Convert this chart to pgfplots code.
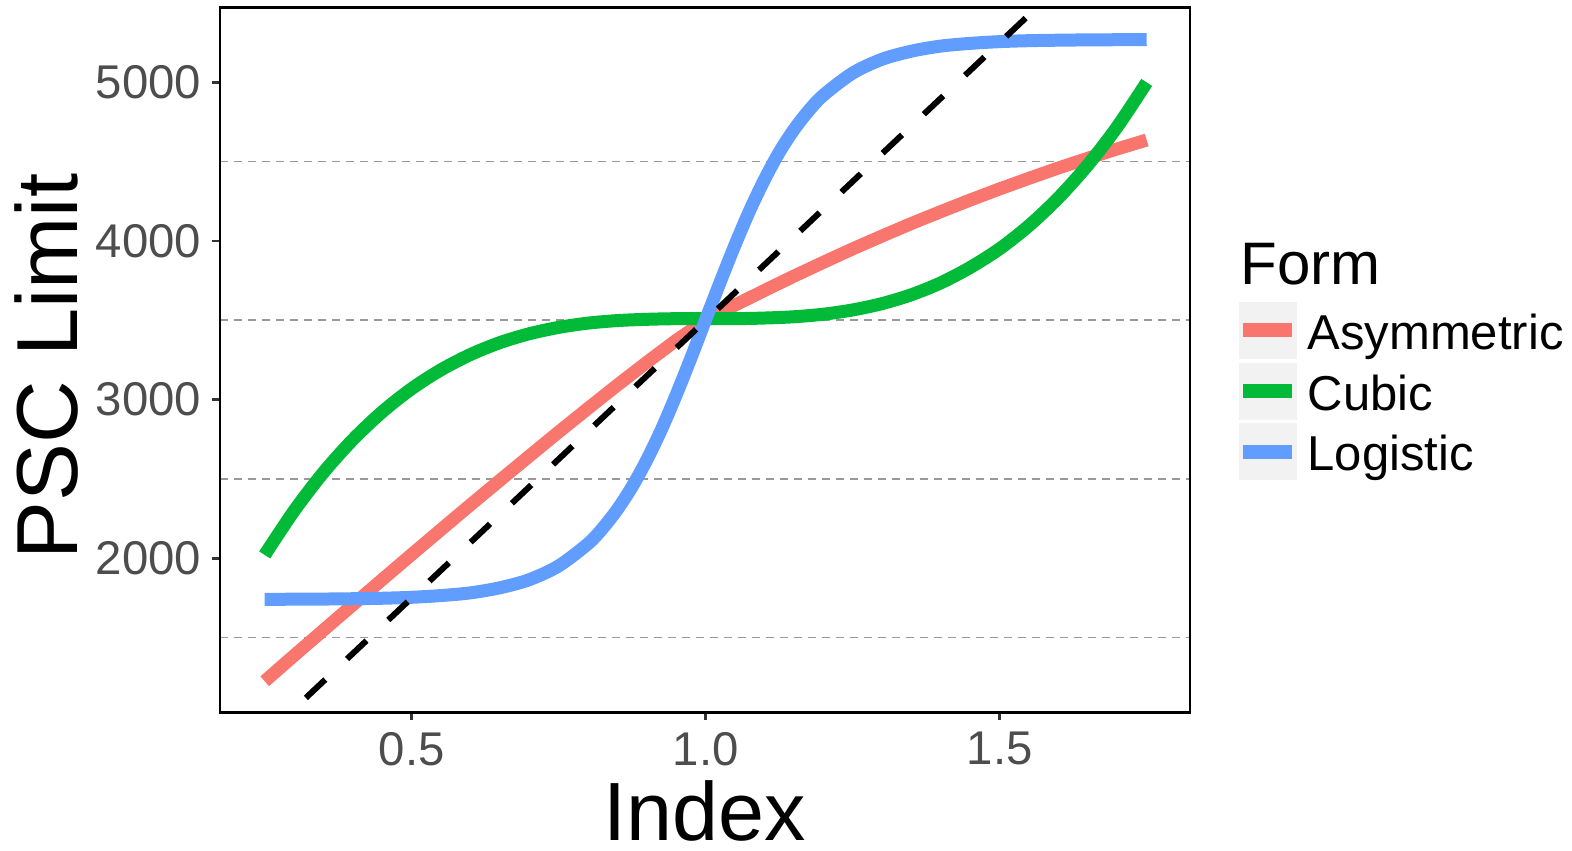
\documentclass[border=0pt]{standalone}
\usepackage{fontspec}
\setmainfont{Liberation Sans}
\usepackage{pgfplots}
\pgfplotsset{compat=1.18}
\definecolor{cA}{HTML}{F8766D}
\definecolor{cC}{HTML}{00BA38}
\definecolor{cL}{HTML}{619CFF}
\definecolor{tickgrey}{HTML}{333333}
\definecolor{labgrey}{HTML}{4D4D4D}
\definecolor{keybg}{HTML}{F2F2F2}
\begin{document}
\begin{tikzpicture}
\begin{axis}[
  scale only axis, width=291pt, height=211.4pt,
  xmin=0.174, xmax=1.8236, ymin=1030, ymax=5471,
  axis line style={black, line width=0.8pt},
  xtick={0.5,1,1.5},
  ytick={2000,3000,4000,5000},
  minor ytick={1500,2500,3500,4500},
  yminorgrids, minor tick length=0pt,
  minor grid style={black!40, line width=0.5pt, dash pattern=on 2.4pt off 1.8pt},
  tick align=outside, major tick length=2.4pt,
  xtick pos=lower, ytick pos=left,
  tick style={tickgrey, line width=0.8pt},
  /pgf/number format/assume math mode=true,
  scaled y ticks=false, scaled x ticks=false,
  /pgf/number format/1000 sep={},
  tick label style={font=\fontsize{14.2}{16}\selectfont, text=labgrey},
  yticklabel style={inner sep=0pt, xshift=-3.1pt},
  xticklabel style={inner sep=0pt, yshift=-3.4pt, /pgf/number format/.cd, fixed, fixed zerofill, precision=1},
  xlabel={Index}, ylabel={PSC Limit},
  xlabel style={font=\fontsize{24.8}{28}\selectfont, at={(axis description cs:0.5,-0.182)}, anchor=base, inner sep=0pt},
  ylabel style={font=\fontsize{26}{28}\selectfont, at={(axis description cs:-0.1474,0.4907)}, anchor=base, inner sep=0pt},
]
% Asymmetric
\addplot[cA, line width=3.9pt] coordinates {
(0.25,1225) (0.30,1387) (0.35,1547) (0.40,1707) (0.45,1866) (0.50,2024)
(0.55,2181) (0.60,2337) (0.65,2491) (0.70,2644) (0.75,2796) (0.80,2945)
(0.85,3092) (0.90,3235) (0.95,3374) (1.00,3500) (1.05,3596) (1.10,3688)
(1.15,3778) (1.20,3865) (1.25,3950) (1.30,4031) (1.35,4110) (1.40,4185)
(1.45,4258) (1.50,4328) (1.55,4395) (1.60,4460) (1.65,4521) (1.70,4580)
(1.75,4636)};
% Cubic
\addplot[cC, line width=3.9pt, smooth] coordinates {
(0.25,2021) (0.30,2299) (0.35,2541) (0.40,2748) (0.45,2923) (0.50,3069)
(0.55,3188) (0.60,3284) (0.65,3359) (0.70,3415) (0.75,3455) (0.80,3482)
(0.85,3498) (0.90,3506) (0.95,3510) (1.00,3510) (1.05,3510) (1.10,3514)
(1.15,3522) (1.20,3538) (1.25,3565) (1.30,3605) (1.35,3661) (1.40,3736)
(1.45,3833) (1.50,3951) (1.55,4097) (1.60,4272) (1.65,4479) (1.70,4720)
(1.75,4999)};
% Logistic
\addplot[cL, line width=3.9pt, smooth] coordinates {
(0.25,1741) (0.30,1742) (0.35,1743) (0.40,1745) (0.45,1748) (0.50,1754)
(0.55,1765) (0.60,1782) (0.65,1814) (0.70,1865) (0.75,1952) (0.80,2092)
(0.825,2190) (0.85,2309) (0.875,2452) (0.90,2621) (0.925,2814) (0.95,3031)
(0.975,3263) (1.00,3505) (1.025,3744) (1.05,3976) (1.075,4193) (1.10,4387)
(1.125,4558) (1.15,4701) (1.175,4820) (1.20,4918) (1.25,5058) (1.30,5145)
(1.35,5196) (1.40,5228) (1.45,5245) (1.50,5256) (1.55,5262) (1.60,5265)
(1.65,5267) (1.70,5268) (1.75,5269)};
% reference line
\addplot[black, line width=1.8pt, dash pattern=on 8pt off 9pt] coordinates {(0.25,875) (1.60,5600)};
\end{axis}
% legend
\node[anchor=base west, inner sep=0pt, font=\fontsize{18}{20}\selectfont] at (306pt,128.2pt) {Form};
\fill[keybg] (305.7pt,105.9pt) rectangle (323.1pt,123.2pt);
\fill[keybg] (305.7pt,87.7pt) rectangle (323.1pt,104.9pt);
\fill[keybg] (305.7pt,69.6pt) rectangle (323.1pt,86.8pt);
\draw[cA, line width=4.2pt] (306.9pt,114.55pt) -- (321.6pt,114.55pt);
\draw[cC, line width=4.2pt] (306.9pt,96.3pt) -- (321.6pt,96.3pt);
\draw[cL, line width=4.2pt] (306.9pt,78.2pt) -- (321.6pt,78.2pt);
\node[anchor=base west, inner sep=0pt, font=\fontsize{14.7}{16}\selectfont] at (326.1pt,108.7pt) {Asymmetric};
\node[anchor=base west, inner sep=0pt, font=\fontsize{14.7}{16}\selectfont] at (326.1pt,90.5pt) {Cubic};
\node[anchor=base west, inner sep=0pt, font=\fontsize{14.7}{16}\selectfont] at (326.1pt,72.5pt) {Logistic};
\pgfresetboundingbox
\path[use as bounding box] (-66pt,-41.6pt) rectangle (405.6pt,213.65pt);
\end{tikzpicture}
\end{document}
